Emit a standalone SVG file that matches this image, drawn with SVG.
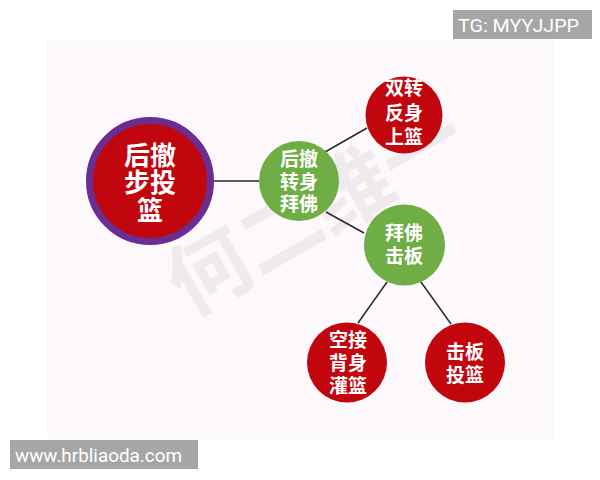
<svg xmlns="http://www.w3.org/2000/svg" width="600" height="480" viewBox="0 0 600 480">
<style>
.cn{font-family:"Noto Sans CJK SC","Noto Sans CJK JP",sans-serif;font-weight:bold;fill:#fff;text-anchor:middle}
.big{font-size:26px}
.sm{font-size:19px}
.red{fill:#c1060e}
.green{fill:#6fae45}
.lbl{font-family:Roboto,"Liberation Sans",sans-serif;fill:#fff}
#connectors line{stroke:#2a2a2a;stroke-width:1.5}
</style>
<rect width="600" height="480" fill="#ffffff"/>
<rect x="47" y="39" width="507" height="400" fill="#fcf8fb"/>
<g id="watermark" font-family="Noto Sans CJK SC,sans-serif" font-size="82" font-weight="bold" fill="#8a8a8a" fill-opacity="0.12" text-anchor="middle">
<text transform="translate(316,211) rotate(-30)" y="29">何二维一</text>
</g>
<g id="connectors">
<line x1="213" y1="181" x2="259" y2="181"/>
<line x1="325" y1="152" x2="367" y2="128"/>
<line x1="326" y1="212" x2="364" y2="233"/>
<line x1="387" y1="282" x2="358" y2="323"/>
<line x1="421" y1="282" x2="451" y2="324"/>
</g>
<g id="main">
<circle cx="150" cy="181" r="60.5" class="red" stroke="#6b2d8f" stroke-width="7"/>
<text class="cn big"><tspan x="150" y="165">后撤</tspan><tspan x="150" y="192">步投</tspan><tspan x="150" y="220">篮</tspan></text>
</g>
<g id="n_houche">
<circle cx="299" cy="181" r="40" class="green"/>
<text class="cn sm"><tspan x="299" y="166">后撤</tspan><tspan x="299" y="189">转身</tspan><tspan x="299" y="211">拜佛</tspan></text>
</g>
<g id="n_shuangzhuan">
<circle cx="404" cy="115" r="38.5" class="red"/>
<text class="cn sm"><tspan x="404" y="95">双转</tspan><tspan x="404" y="120">反身</tspan><tspan x="404" y="144">上篮</tspan></text>
</g>
<g id="n_baifo">
<circle cx="404.5" cy="245" r="40.5" class="green"/>
<text class="cn sm"><tspan x="404" y="240">拜佛</tspan><tspan x="404" y="263">击板</tspan></text>
</g>
<g id="n_kongjie">
<circle cx="347" cy="362.5" r="40" class="red"/>
<text class="cn sm"><tspan x="348" y="347">空接</tspan><tspan x="348" y="370">背身</tspan><tspan x="348" y="393">灌篮</tspan></text>
</g>
<g id="n_jiban">
<circle cx="465" cy="362.5" r="40" class="red"/>
<text class="cn sm"><tspan x="465" y="359">击板</tspan><tspan x="465" y="382">投篮</tspan></text>
</g>
<g id="tag">
<rect x="453" y="10" width="139" height="29" fill="#a6a6a6"/>
<text class="lbl" x="458" y="32" font-size="19" textLength="121" lengthAdjust="spacingAndGlyphs">TG: MYYJJPP</text>
</g>
<g id="url">
<rect x="10" y="440" width="188" height="29" fill="#a6a6a6"/>
<text class="lbl" x="15" y="462" font-size="19" textLength="167" lengthAdjust="spacingAndGlyphs">www.hrbliaoda.com</text>
</g>
</svg>
